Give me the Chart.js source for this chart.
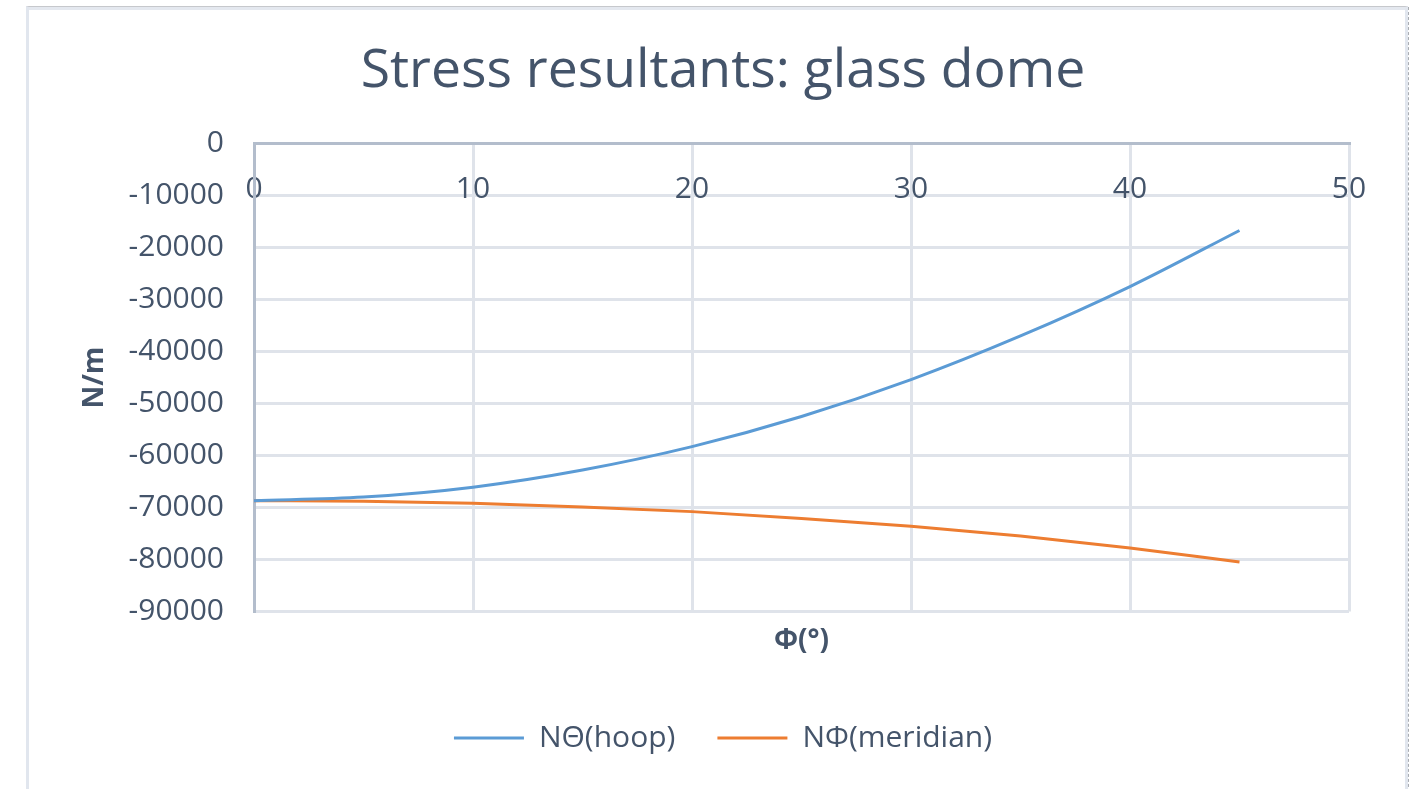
<!DOCTYPE html>
<html>
<head>
<meta charset="utf-8">
<title>Stress resultants: glass dome</title>
<script src="https://cdn.jsdelivr.net/npm/chart.js@4.4.1/dist/chart.umd.min.js"></script>
<style>
  html, body { margin: 0; padding: 0; background: #ffffff; }
  #wrap { position: relative; width: 1424px; height: 789px; overflow: hidden; }
  #frame {
    position: absolute; left: 26px; top: 6px; width: 1376px; height: 800px;
    border-top: 1px solid #c6c8cc;
    border-left: 3px solid #e1e6ee;
    border-right: 3px solid #e1e6ee;
    box-shadow: inset 0 3px 0 #e4e8ef;
  }
  #edge {
    position: absolute; left: 1408px; top: 7px; width: 0; height: 800px;
    border-left: 1px dashed #a9acb2;
  }
  canvas { position: absolute; left: 0; top: 0; }
</style>
</head>
<body>
<div id="wrap">
  <div id="frame"></div>
  <div id="edge"></div>
  <canvas id="chart" width="1424" height="789"></canvas>
</div>
<script>
// Meridian angle Φ in degrees
const phiDeg = [0, 5, 10, 15, 20, 25, 30, 35, 40, 45];
// Hoop stress resultant NΘ, N/m
const hoopN = [-68700, -68000, -66100, -62800, -58300, -52500, -45400, -37000, -27500, -16700];
// Meridional stress resultant NΦ, N/m
const meridianN = [-68700, -68800, -69200, -69900, -70800, -72100, -73600, -75500, -77800, -80500];

const seriesNames = ['NΘ(hoop)', 'NΦ(meridian)'];
const seriesColors = ['#5b9bd5', '#ed7d31'];

const chartTitle = 'Stress resultants: glass dome';
const xTitle = 'Φ(°)';
const yTitle = 'N/m';
const xRange = [0, 50, 10];
const yRange = [-90000, 0, 10000];

const textColor = '#44546a';
const gridColor = '#dfe3ea';
const axisColor = '#b3bdcc';

function toPoints(xs, ys) {
  return xs.map((x, i) => ({ x: x, y: ys[i] }));
}

const seriesValues = [hoopN, meridianN];
const datasets = seriesNames.map((name, i) => ({
  label: name,
  data: toPoints(phiDeg, seriesValues[i]),
  borderColor: seriesColors[i],
  backgroundColor: seriesColors[i],
  borderWidth: 3,
  pointRadius: 0,
  pointHoverRadius: 0,
  pointStyle: 'line',
  showLine: true,
  tension: 0.4,
  cubicInterpolationMode: 'monotone',
  fill: false
}));

Chart.defaults.font.family = '"Open Sans", "Noto Sans", sans-serif';
Chart.defaults.color = textColor;

new Chart(document.getElementById('chart'), {
  type: 'scatter',
  data: { datasets: datasets },
  options: {
    responsive: false,
    animation: false,
    events: [],
    layout: { padding: { left: 60, right: 38, top: 0, bottom: 26 } },
    plugins: {
      title: {
        display: true,
        text: chartTitle,
        color: textColor,
        font: { size: 53.5, weight: 'normal' },
        padding: { top: 40, bottom: 39.5 }
      },
      legend: {
        display: true,
        position: 'bottom',
        labels: {
          usePointStyle: true,
          pointStyleWidth: 70,
          boxHeight: 10,
          padding: 42,
          color: textColor,
          font: { size: 30 }
        }
      },
      tooltip: { enabled: false }
    },
    scales: {
      x: {
        type: 'linear',
        position: { y: 0 },
        min: xRange[0],
        max: xRange[1],
        ticks: {
          stepSize: xRange[2],
          padding: 28,
          color: textColor,
          font: { size: 30 },
          maxRotation: 0,
          callback: v => String(v)
        },
        grid: { color: gridColor, lineWidth: 3, drawTicks: false },
        border: { display: true, color: axisColor, width: 3 }
      },
      xTitleAxis: {
        type: 'linear',
        position: 'bottom',
        min: xRange[0],
        max: xRange[1],
        ticks: { display: false },
        grid: { display: false, drawTicks: false },
        border: { display: false },
        title: {
          display: true,
          text: xTitle,
          color: textColor,
          font: { size: 28, weight: 'bold' },
          padding: { top: 13, bottom: 23 }
        }
      },
      y: {
        type: 'linear',
        position: 'left',
        min: yRange[0],
        max: yRange[1],
        afterFit: s => { s.width = 194; },
        ticks: {
          stepSize: yRange[2],
          padding: 30,
          color: textColor,
          font: { size: 30 },
          callback: v => String(v)
        },
        grid: { color: gridColor, lineWidth: 3, drawTicks: false },
        border: { display: true, color: axisColor, width: 3 },
        title: {
          display: true,
          text: yTitle,
          color: textColor,
          font: { size: 28, weight: 'bold' },
          padding: { top: 18, bottom: 0 }
        }
      },
      ySpacer: {
        type: 'linear',
        position: 'right',
        display: true,
        afterFit: s => { s.width = 37; },
        ticks: { display: false },
        grid: { display: false, drawTicks: false },
        border: { display: false }
      }
    }
  }
});
</script>
</body>
</html>
